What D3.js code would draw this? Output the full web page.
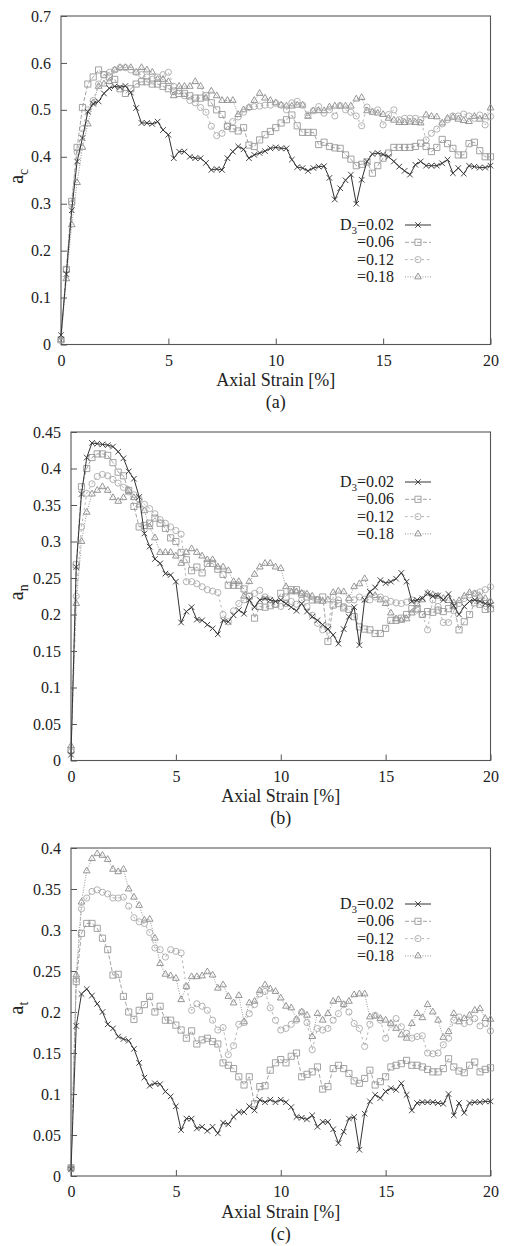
<!DOCTYPE html>
<html>
<head>
<meta charset="utf-8">
<script src="https://cdn.jsdelivr.net/npm/d3@7"></script>
<style>
  body { margin: 0; background: #fff; }
  svg { display: block; }
  text { font-family: "Liberation Serif", "Times New Roman", serif; fill: #222; }
</style>
</head>
<body>
<svg id="chart" width="511" height="1246"></svg>
<script>
// axial strain [%] sampled every 0.25
const strain = [
  0, 0.25, 0.5, 0.75, 1, 1.25, 1.5, 1.75, 2, 2.25, 2.5, 2.75, 3, 3.25, 3.5, 3.75,
  4, 4.25, 4.5, 4.75, 5, 5.25, 5.5, 5.75, 6, 6.25, 6.5, 6.75, 7, 7.25, 7.5, 7.75,
  8, 8.25, 8.5, 8.75, 9, 9.25, 9.5, 9.75, 10, 10.25, 10.5, 10.75, 11, 11.25, 11.5, 11.75,
  12, 12.25, 12.5, 12.75, 13, 13.25, 13.5, 13.75, 14, 14.25, 14.5, 14.75, 15, 15.25, 15.5, 15.75,
  16, 16.25, 16.5, 16.75, 17, 17.25, 17.5, 17.75, 18, 18.25, 18.5, 18.75, 19, 19.25, 19.5, 19.75, 20
];

const legendValues = ['0.02', '0.06', '0.12', '0.18'];

// (a) a_c
const ac002 = [
  0.02, 0.15, 0.286, 0.39, 0.44, 0.496, 0.513, 0.518, 0.535, 0.546,
  0.55, 0.548, 0.551, 0.537, 0.504, 0.472, 0.472, 0.47, 0.475, 0.457,
  0.447, 0.397, 0.411, 0.411, 0.40, 0.397, 0.397, 0.387, 0.372, 0.374,
  0.372, 0.397, 0.411, 0.422, 0.416, 0.397, 0.404, 0.408, 0.412, 0.418,
  0.42, 0.418, 0.418, 0.394, 0.378, 0.376, 0.37, 0.376, 0.379, 0.38,
  0.355, 0.309, 0.333, 0.35, 0.362, 0.30, 0.351, 0.39, 0.406, 0.408,
  0.405, 0.40, 0.39, 0.379, 0.37, 0.362, 0.383, 0.39, 0.381, 0.381,
  0.381, 0.386, 0.394, 0.365, 0.376, 0.364, 0.381, 0.379, 0.377, 0.377, 0.381
];
const ac006 = [
  0.01, 0.16, 0.305, 0.42, 0.505, 0.555, 0.57, 0.585, 0.575, 0.57,
  0.565, 0.545, 0.535, 0.545, 0.555, 0.56, 0.56, 0.555, 0.555, 0.55,
  0.545, 0.54, 0.535, 0.535, 0.53, 0.525, 0.525, 0.53, 0.515, 0.50,
  0.49, 0.465, 0.46, 0.455, 0.462, 0.425, 0.422, 0.436, 0.447, 0.454,
  0.462, 0.472, 0.479, 0.489, 0.466, 0.452, 0.452, 0.452, 0.426, 0.431,
  0.422, 0.419, 0.418, 0.404, 0.395, 0.381, 0.384, 0.389, 0.365, 0.381,
  0.397, 0.408, 0.42, 0.42, 0.42, 0.42, 0.422, 0.429, 0.422, 0.411,
  0.42, 0.437, 0.428, 0.418, 0.404, 0.404, 0.428, 0.431, 0.413, 0.40, 0.40
];
const ac012 = [
  0.01, 0.16, 0.30, 0.41, 0.46, 0.50, 0.52, 0.555, 0.575, 0.58,
  0.585, 0.59, 0.59, 0.585, 0.58, 0.575, 0.57, 0.565, 0.57, 0.575,
  0.58, 0.55, 0.54, 0.53, 0.52, 0.515, 0.505, 0.495, 0.465, 0.445,
  0.45, 0.465, 0.475, 0.485, 0.495, 0.505, 0.507, 0.508, 0.51, 0.51,
  0.514, 0.51, 0.50, 0.515, 0.518, 0.51, 0.489, 0.498, 0.507, 0.493,
  0.50, 0.487, 0.509, 0.50, 0.495, 0.487, 0.466, 0.506, 0.496, 0.50,
  0.468, 0.49, 0.50, 0.479, 0.482, 0.482, 0.482, 0.479, 0.436, 0.45,
  0.459, 0.47, 0.479, 0.487, 0.487, 0.491, 0.487, 0.482, 0.489, 0.468, 0.486
];
const ac018 = [
  0.01, 0.14, 0.255, 0.345, 0.42, 0.47, 0.515, 0.55, 0.555, 0.56,
  0.585, 0.59, 0.59, 0.59, 0.58, 0.59, 0.585, 0.58, 0.565, 0.565,
  0.56, 0.53, 0.55, 0.55, 0.55, 0.56, 0.55, 0.525, 0.54, 0.53,
  0.52, 0.52, 0.52, 0.49, 0.50, 0.505, 0.52, 0.535, 0.525, 0.52,
  0.515, 0.51, 0.508, 0.508, 0.51, 0.51, 0.486, 0.498, 0.498, 0.498,
  0.506, 0.508, 0.508, 0.508, 0.508, 0.523, 0.526, 0.498, 0.495, 0.493,
  0.49, 0.482, 0.478, 0.473, 0.473, 0.474, 0.473, 0.472, 0.489, 0.486,
  0.485, 0.472, 0.482, 0.484, 0.48, 0.477, 0.475, 0.486, 0.48, 0.485, 0.504
];

// (b) a_n
const an002 = [
  0.008, 0.265, 0.365, 0.415, 0.435, 0.434, 0.433, 0.432, 0.43, 0.423,
  0.414, 0.396, 0.386, 0.361, 0.311, 0.293, 0.276, 0.27, 0.256, 0.254,
  0.245, 0.189, 0.204, 0.21, 0.193, 0.192, 0.186, 0.181, 0.173, 0.192,
  0.19, 0.199, 0.206, 0.201, 0.22, 0.21, 0.22, 0.222, 0.22, 0.218,
  0.22, 0.215, 0.21, 0.205, 0.215, 0.204, 0.197, 0.192, 0.186, 0.18,
  0.172, 0.16, 0.18, 0.197, 0.21, 0.158, 0.22, 0.231, 0.237, 0.247,
  0.243, 0.245, 0.249, 0.257, 0.245, 0.218, 0.22, 0.222, 0.229, 0.225,
  0.226, 0.22, 0.228, 0.212, 0.2, 0.211, 0.218, 0.22, 0.218, 0.215, 0.213
];
const an006 = [
  0.014, 0.268, 0.375, 0.40, 0.415, 0.42, 0.42, 0.418, 0.408, 0.395,
  0.39, 0.37, 0.348, 0.32, 0.322, 0.325, 0.332, 0.325, 0.318, 0.305,
  0.30, 0.285, 0.275, 0.26, 0.265, 0.257, 0.27, 0.27, 0.262, 0.255,
  0.24, 0.24, 0.24, 0.235, 0.225, 0.195, 0.211, 0.21, 0.212, 0.214,
  0.229, 0.224, 0.234, 0.234, 0.228, 0.224, 0.22, 0.22, 0.224, 0.163,
  0.213, 0.215, 0.209, 0.207, 0.197, 0.183, 0.18, 0.179, 0.174, 0.174,
  0.181, 0.192, 0.192, 0.195, 0.2, 0.208, 0.208, 0.2, 0.204, 0.203,
  0.206, 0.204, 0.208, 0.212, 0.179, 0.19, 0.2, 0.216, 0.214, 0.207, 0.208
];
const an012 = [
  0.012, 0.225, 0.32, 0.366, 0.379, 0.389, 0.392, 0.39, 0.385, 0.38,
  0.374, 0.368, 0.364, 0.358, 0.351, 0.345, 0.338, 0.33, 0.325, 0.32,
  0.315, 0.31, 0.245, 0.245, 0.242, 0.238, 0.234, 0.232, 0.23, 0.2,
  0.19, 0.205, 0.215, 0.22, 0.225, 0.229, 0.233, 0.224, 0.22, 0.214,
  0.211, 0.215, 0.218, 0.214, 0.22, 0.211, 0.199, 0.188, 0.179, 0.183,
  0.224, 0.22, 0.211, 0.22, 0.22, 0.224, 0.221, 0.22, 0.224, 0.224,
  0.221, 0.218, 0.216, 0.215, 0.217, 0.22, 0.206, 0.2, 0.179, 0.22,
  0.211, 0.189, 0.189, 0.205, 0.215, 0.222, 0.227, 0.229, 0.231, 0.234, 0.238
];
const an018 = [
  0.02, 0.215, 0.30, 0.34, 0.365, 0.37, 0.375, 0.37, 0.36, 0.355,
  0.36, 0.37, 0.36, 0.35, 0.342, 0.32, 0.305, 0.285, 0.285, 0.285,
  0.28, 0.27, 0.285, 0.29, 0.285, 0.28, 0.275, 0.275, 0.265, 0.265,
  0.26, 0.245, 0.245, 0.225, 0.245, 0.255, 0.265, 0.27, 0.27, 0.265,
  0.263, 0.238, 0.231, 0.231, 0.229, 0.228, 0.225, 0.22, 0.218, 0.22,
  0.23, 0.232, 0.231, 0.222, 0.238, 0.242, 0.249, 0.228, 0.226, 0.22,
  0.215, 0.202, 0.194, 0.192, 0.194, 0.202, 0.214, 0.22, 0.229, 0.227,
  0.225, 0.222, 0.219, 0.216, 0.219, 0.225, 0.23, 0.228, 0.225, 0.222, 0.218
];

// (c) a_t
const at002 = [
  0.008, 0.183, 0.222, 0.228, 0.22, 0.21, 0.2, 0.185, 0.18, 0.17,
  0.167, 0.165, 0.155, 0.138, 0.12, 0.11, 0.113, 0.112, 0.103, 0.097,
  0.085, 0.056, 0.07, 0.07, 0.058, 0.06, 0.055, 0.06, 0.052, 0.065,
  0.063, 0.072, 0.078, 0.078, 0.085, 0.08, 0.093, 0.09, 0.093, 0.09,
  0.093, 0.09, 0.084, 0.072, 0.071, 0.069, 0.074, 0.06, 0.066, 0.066,
  0.057, 0.04, 0.054, 0.07, 0.072, 0.032, 0.076, 0.091, 0.099, 0.095,
  0.103, 0.107, 0.105, 0.113, 0.099, 0.08, 0.089, 0.09, 0.09, 0.09,
  0.089, 0.088, 0.1, 0.074, 0.089, 0.077, 0.089, 0.09, 0.09, 0.091, 0.091
];
const at006 = [
  0.01, 0.237, 0.296, 0.308, 0.308, 0.302, 0.29, 0.276, 0.245, 0.246,
  0.219, 0.2, 0.191, 0.202, 0.209, 0.219, 0.2, 0.207, 0.19, 0.19,
  0.184, 0.178, 0.168, 0.177, 0.161, 0.166, 0.168, 0.164, 0.161, 0.138,
  0.135, 0.131, 0.121, 0.111, 0.121, 0.088, 0.109, 0.11, 0.129, 0.138,
  0.142, 0.138, 0.146, 0.15, 0.121, 0.124, 0.127, 0.133, 0.106, 0.109,
  0.131, 0.135, 0.131, 0.125, 0.116, 0.113, 0.119, 0.129, 0.111, 0.115,
  0.121, 0.133, 0.135, 0.137, 0.141, 0.135, 0.135, 0.133, 0.13, 0.127,
  0.127, 0.131, 0.143, 0.133, 0.128, 0.126, 0.135, 0.139, 0.127, 0.13, 0.132
];
const at012 = [
  0.01, 0.24, 0.326, 0.339, 0.347, 0.349, 0.346, 0.344, 0.339, 0.339,
  0.34, 0.329, 0.315, 0.31, 0.308, 0.297, 0.278, 0.276, 0.267, 0.276,
  0.274, 0.272, 0.231, 0.202, 0.21, 0.207, 0.202, 0.19, 0.178, 0.181,
  0.148, 0.159, 0.185, 0.187, 0.198, 0.209, 0.222, 0.225, 0.205, 0.19,
  0.178, 0.18, 0.185, 0.19, 0.2, 0.187, 0.154, 0.18, 0.178, 0.18,
  0.19, 0.198, 0.209, 0.2, 0.186, 0.18, 0.158, 0.185, 0.196, 0.19,
  0.168, 0.185, 0.192, 0.182, 0.174, 0.168, 0.17, 0.171, 0.15, 0.149,
  0.15, 0.16, 0.168, 0.19, 0.194, 0.186, 0.188, 0.192, 0.183, 0.186, 0.177
];
const at018 = [
  0.01, 0.245, 0.334, 0.372, 0.387, 0.393, 0.391, 0.386, 0.374, 0.371,
  0.374, 0.35, 0.34, 0.33, 0.312, 0.313, 0.29, 0.259, 0.246, 0.244,
  0.241, 0.215, 0.231, 0.243, 0.243, 0.244, 0.249, 0.245, 0.229, 0.233,
  0.219, 0.211, 0.22, 0.188, 0.211, 0.213, 0.226, 0.233, 0.228, 0.225,
  0.217, 0.207, 0.205, 0.191, 0.2, 0.196, 0.17, 0.198, 0.19, 0.198,
  0.213, 0.215, 0.209, 0.213, 0.221, 0.222, 0.222, 0.194, 0.195, 0.192,
  0.19, 0.186, 0.18, 0.172, 0.168, 0.186, 0.198, 0.193, 0.209, 0.2,
  0.19, 0.169, 0.176, 0.198, 0.188, 0.192, 0.196, 0.202, 0.204, 0.192, 0.191
];

const xTicks = [0, 5, 10, 15, 20];
const yTicksA = [0, 0.1, 0.2, 0.3, 0.4, 0.5, 0.6, 0.7];
const yTicksB = [0, 0.05, 0.1, 0.15, 0.2, 0.25, 0.3, 0.35, 0.4, 0.45];
const yTicksC = [0, 0.05, 0.1, 0.15, 0.2, 0.25, 0.3, 0.35, 0.4];

const svg = d3.select('#chart');
svg.append('rect').attr('width', 511).attr('height', 1246).attr('fill', '#fff');

const frameColor = '#555';
const right = 490.5;

const styles = [
  { color: '#333', dash: null,    width: 1.0, symbol: d3.symbolTimes,     size: 22 },
  { color: '#999', dash: '4,2',   width: 0.9, symbol: d3.symbolSquare2,   size: 48 },
  { color: '#aaa', dash: '2.5,3', width: 0.9, symbol: d3.symbolCircle,    size: 30 },
  { color: '#8a8a8a', dash: '1,1.5', width: 0.9, symbol: d3.symbolTriangle2, size: 32 }
];

const panels = [
  { sub: 'c', tag: '(a)', series: [ac002, ac006, ac012, ac018], yMax: 0.7,  yTicks: yTicksA, top: 16,  bottom: 344.5, left: 61, legendY: 230 },
  { sub: 'n', tag: '(b)', series: [an002, an006, an012, an018], yMax: 0.45, yTicks: yTicksB, top: 432, bottom: 760.5, left: 71, legendY: 487 },
  { sub: 't', tag: '(c)', series: [at002, at006, at012, at018], yMax: 0.4,  yTicks: yTicksC, top: 848, bottom: 1176,  left: 71, legendY: 909 }
];

const fmt = d => String(+d.toFixed(2));

panels.forEach(p => {
  const x = d3.scaleLinear().domain([0, 20]).range([p.left, right]);
  const y = d3.scaleLinear().domain([0, p.yMax]).range([p.bottom, p.top]);
  const g = svg.append('g');

  // axes with inward ticks
  const ya = g.append('g')
    .attr('transform', `translate(${p.left},0)`)
    .call(d3.axisLeft(y).tickValues(p.yTicks).tickFormat(fmt).tickSize(-6).tickPadding(10));
  const xa = g.append('g')
    .attr('transform', `translate(0,${p.bottom})`)
    .call(d3.axisBottom(x).tickValues(xTicks).tickFormat(fmt).tickSize(-6).tickPadding(10));
  [ya, xa].forEach(a => {
    a.select('.domain').remove();
    a.selectAll('.tick line').attr('stroke', frameColor);
    a.selectAll('.tick text')
      .attr('fill', '#222')
      .style('font-family', '"Liberation Serif", "Times New Roman", serif')
      .style('font-size', '16px');
  });

  g.append('rect')
    .attr('x', p.left).attr('y', p.top)
    .attr('width', right - p.left).attr('height', p.bottom - p.top)
    .attr('fill', 'none').attr('stroke', frameColor).attr('stroke-width', 1.1);

  // series, drawn light to dark so the solid line sits on top
  const line = d3.line().x((d, i) => x(strain[i])).y(d => y(d));
  [3, 2, 1, 0].forEach(si => {
    const st = styles[si];
    const vals = p.series[si];
    g.append('path')
      .attr('d', line(vals))
      .attr('fill', 'none')
      .attr('stroke', st.color)
      .attr('stroke-width', st.width)
      .attr('stroke-dasharray', st.dash);
    g.append('g').selectAll('path')
      .data(vals)
      .join('path')
      .attr('transform', (d, i) => `translate(${x(strain[i])},${y(d)})`)
      .attr('d', d3.symbol(st.symbol, st.size))
      .attr('fill', 'none')
      .attr('stroke', st.color)
      .attr('stroke-width', 0.9);
  });

  // legend
  const lg = g.append('g');
  legendValues.forEach((v, i) => {
    const by = p.legendY + i * 17.3;
    const t = lg.append('text')
      .attr('x', 394).attr('y', by)
      .attr('text-anchor', 'end')
      .style('font-size', '16px');
    if (i === 0) {
      t.append('tspan').text('D');
      t.append('tspan').attr('dy', 4).style('font-size', '11px').text('3');
      t.append('tspan').attr('dy', -4).text('=' + v);
    } else {
      t.text('=' + v);
    }
    const st = styles[i];
    const ly = by - 5;
    lg.append('line')
      .attr('x1', 405).attr('x2', 431).attr('y1', ly).attr('y2', ly)
      .attr('stroke', st.color).attr('stroke-width', st.width)
      .attr('stroke-dasharray', st.dash);
    lg.append('path')
      .attr('transform', `translate(418,${ly})`)
      .attr('d', d3.symbol(st.symbol, st.size))
      .attr('fill', 'none').attr('stroke', st.color).attr('stroke-width', 0.9);
  });

  // axis titles
  const cx = (p.left + right) / 2;
  g.append('text')
    .attr('x', cx).attr('y', p.bottom + 41.5)
    .attr('text-anchor', 'middle')
    .style('font-size', '18px')
    .text('Axial Strain [%]');
  g.append('text')
    .attr('x', cx).attr('y', p.bottom + 63.5)
    .attr('text-anchor', 'middle')
    .style('font-size', '18px')
    .text(p.tag);

  const yl = g.append('text')
    .attr('transform', `translate(23,${(p.top + p.bottom) / 2 - 4}) rotate(-90)`)
    .attr('text-anchor', 'middle')
    .style('font-size', '20px');
  yl.append('tspan').text('a');
  yl.append('tspan').attr('dy', 5).style('font-size', '14px').text(p.sub);
});
</script>
</body>
</html>
